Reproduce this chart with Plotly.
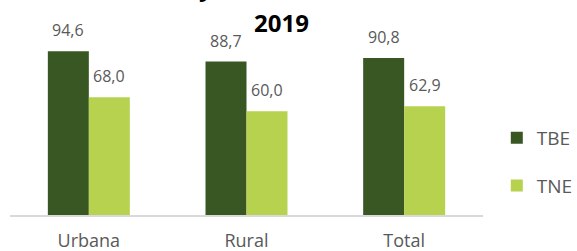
import plotly.graph_objects as go

categories = ["Urbana", "Rural", "Total"]
tbe = [94.6, 88.7, 90.8]
tne = [68.0, 60.0, 62.9]
tbe_labels = ["94,6", "88,7", "90,8"]
tne_labels = ["68,0", "60,0", "62,9"]
title_line1 = "Tasa bruta y neta de escolaridad (%)"
title_line2 = "2019"

DARK = "#385723"
LIGHT = "#B6D24F"
GREY = "#595959"
FONT = "Open Sans"

fig = go.Figure()
fig.add_trace(go.Bar(x=categories, y=tbe, name="TBE", marker_color=DARK,
                     legendgroup="a", hoverinfo="skip"))
fig.add_trace(go.Bar(x=categories, y=tne, name="TNE", marker_color=LIGHT,
                     legendgroup="b", hoverinfo="skip"))

annotations = []
for c, v, t in zip(categories, tbe, tbe_labels):
    annotations.append(dict(x=c, y=v, text=t, showarrow=False, xshift=-20.5, yshift=21,
                            yanchor="middle", font=dict(family=FONT, size=16, color=GREY)))
for c, v, t in zip(categories, tne, tne_labels):
    annotations.append(dict(x=c, y=v, text=t, showarrow=False, xshift=20.5, yshift=21,
                            yanchor="middle", font=dict(family=FONT, size=16, color=GREY)))
annotations.append(dict(xref="paper", yref="paper", x=0.573, y=1.32, text="<b>" + title_line1 + "</b>",
                        showarrow=False, yanchor="middle", xanchor="center",
                        font=dict(family=FONT, size=24, color="#000000")))
annotations.append(dict(xref="paper", yref="paper", x=0.573, y=1.11, text="<b>" + title_line2 + "</b>",
                        showarrow=False, yanchor="middle", xanchor="center",
                        font=dict(family=FONT, size=24, color="#000000")))

fig.update_layout(
    template="none",
    width=577, height=251,
    margin=dict(l=10, r=94, t=42, b=36, autoexpand=False),
    paper_bgcolor="white", plot_bgcolor="white",
    barmode="group", bargap=0.48, bargroupgap=0,
    font=dict(family=FONT, color=GREY),
    showlegend=True,
    legend=dict(xref="container", yref="container", x=0.861, xanchor="left",
                y=0.355, yanchor="middle", bgcolor="rgba(0,0,0,0)",
                font=dict(family=FONT, size=19, color=GREY),
                tracegroupgap=20, itemclick=False),
    annotations=annotations,
    xaxis=dict(showline=True, linecolor="#D9D9D9", linewidth=2, showgrid=False,
               ticks="outside", ticklen=8, tickcolor="rgba(0,0,0,0)", automargin=False,
               tickfont=dict(family=FONT, size=18, color=GREY), fixedrange=True),
    yaxis=dict(range=[0, 100], visible=False, showgrid=False, fixedrange=True,
               automargin=False),
)

fig.write_html("out.html", config={"displayModeBar": False},
               post_script="document.body.style.margin='0';document.body.style.overflow='hidden';")
